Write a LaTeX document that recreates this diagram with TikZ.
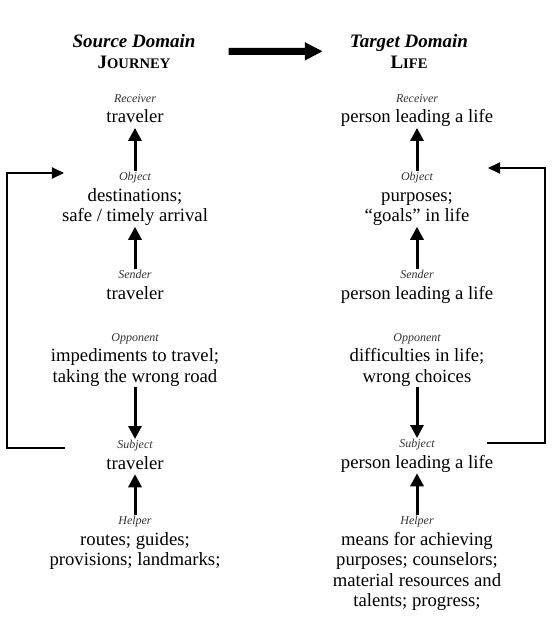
\documentclass[tikz,border=0pt]{standalone}
\usepackage{fontspec}
\setmainfont{Liberation Serif}
\usetikzlibrary{arrows.meta}

\newcommand{\rolename}[1]{{\fontsize{12bp}{12bp}\selectfont\itshape\color{black!80}#1}}
\newcommand{\actantbox}[2]{\rolename{#1}\\#2\vphantom{g}}

\begin{document}
\begin{tikzpicture}[x=1bp,y=-1bp,>={Triangle[width=13bp,length=13bp]},
  actant/.style={align=center,inner sep=1bp,anchor=north,font=\fontsize{18.7bp}{20.5bp}\selectfont},
  domaintitle/.style={align=center,inner sep=1bp,anchor=north,font=\fontsize{19bp}{21bp}\selectfont\bfseries},
  actantarrow/.style={->,line width=3bp},
  feedback/.style={-{Triangle[width=11bp,length=12bp]},line width=2bp}]

  \useasboundingbox (0,0) rectangle (560,637);

  \node[domaintitle] (source) at (134,33) {{\itshape Source Domain}\\J{\fontsize{14.6bp}{21bp}\selectfont OURNEY}};
  \node[domaintitle] (target) at (409,33) {{\itshape Target Domain}\\L{\fontsize{14.6bp}{21bp}\selectfont IFE}};
  \draw[line width=7bp,-{Triangle[width=17bp,length=18bp]},shorten <=32bp,shorten >=26bp]
    (source.east) -- (target.west);

  % journey
  \node[actant] (receiverL)  at (135,93)  {\actantbox{Receiver}{traveler}};
  \node[actant] (objectL)    at (135,171) {\actantbox{Object}{destinations;\\safe / timely arrival}};
  \node[actant] (senderL)    at (135,269) {\actantbox{Sender}{traveler}};
  \node[actant] (opponentL)  at (135,332) {\actantbox{Opponent}{impediments to travel;\\taking the wrong road}};
  \node[actant] (subjectL)   at (135,439) {\actantbox{Subject}{traveler}};
  \node[actant] (helperL)    at (135,515) {\actantbox{Helper}{routes; guides;\\provisions; landmarks;}};

  % life
  \node[actant] (receiverR)  at (417,93)  {\actantbox{Receiver}{person leading a life}};
  \node[actant] (objectR)    at (417,171) {\actantbox{Object}{purposes;\\“goals” in life}};
  \node[actant] (senderR)    at (417,269) {\actantbox{Sender}{person leading a life}};
  \node[actant] (opponentR)  at (417,332) {\actantbox{Opponent}{difficulties in life;\\wrong choices}};
  \node[actant] (subjectR)   at (417,438) {\actantbox{Subject}{person leading a life}};
  \node[actant] (helperR)    at (417,515) {\actantbox{Helper}{means for achieving\\purposes; counselors;\\material resources and\\talents; progress;}};

  \path[actantarrow]
    (objectL) edge (receiverL)
    (senderL) edge (objectL)
    (opponentL) edge (subjectL)
    (helperL) edge (subjectL)
    (objectR) edge (receiverR)
    (senderR) edge (objectR)
    (opponentR) edge (subjectR)
    (helperR) edge (subjectR);

  \draw[feedback] ([xshift=-70bp,yshift=-9bp]subjectL.north) -| ([xshift=-128bp,yshift=-2bp]objectL.north)
    -- ([xshift=-71bp,yshift=-2bp]objectL.north);
  \draw[feedback] ([xshift=70bp,yshift=-5bp]subjectR.north) -| ([xshift=128bp,yshift=3bp]objectR.north)
    -- ([xshift=71bp,yshift=3bp]objectR.north);

\end{tikzpicture}
\end{document}
